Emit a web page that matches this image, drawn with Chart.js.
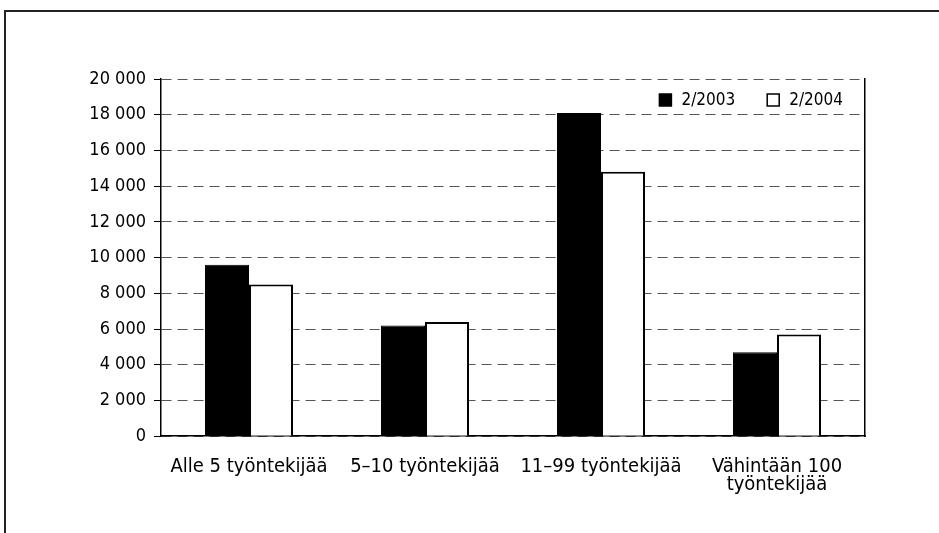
<!DOCTYPE html>
<html>
<head>
<meta charset="utf-8">
<script src="https://cdn.jsdelivr.net/npm/chart.js@4/dist/chart.umd.min.js"></script>
<style>
  html, body { margin: 0; padding: 0; background: #fff; overflow: hidden; }
  #frame {
    position: absolute; left: 4px; top: 10px; width: 960px; height: 560px;
    border-top: 2px solid #222; border-left: 2px solid #222;
  }
  #wrap { position: absolute; left: 0; top: 0; width: 939px; height: 533px; }
</style>
</head>
<body>
<div id="frame"></div>
<div id="wrap"><canvas id="chart"></canvas></div>
<script>
// Kategoriat ja arvot (luettu kuvasta)
const categories = ['Alle 5 työntekijää', '5–10 työntekijää', '11–99 työntekijää', ['Vähintään 100', 'työntekijää']];
const values2003 = [9600, 6200, 18100, 4700];
const values2004 = [8500, 6400, 14800, 5700];
const seriesLabels = ['2/2003', '2/2004'];
const yTicks = [0, 2000, 4000, 6000, 8000, 10000, 12000, 14000, 16000, 18000, 20000];

const fontFamily = "'Liberation Sans Narrow', 'Arial Narrow', 'DejaVu Sans Condensed', sans-serif";

// Selite piirretään kuva-alueen sisään oikeaan yläkulmaan
const insideLegend = {
    id: 'insideLegend',
    afterDraw(chart) {
        const c = chart.ctx;
        const area = chart.chartArea;
        const box = 12;
        const gap = 10;
        const spacing = 32;
        const y = area.top + 21;
        c.save();
        c.font = '17px ' + fontFamily;
        c.textBaseline = 'middle';
        c.textAlign = 'left';
        let x = area.right - 22;
        const sets = chart.data.datasets.slice().reverse();
        sets.forEach(ds => {
            const w = c.measureText(ds.label).width;
            x -= w;
            c.fillStyle = '#000';
            c.fillText(ds.label, x, y + 1);
            x -= gap + box;
            c.fillStyle = ds.backgroundColor;
            c.fillRect(x, y - box / 2, box, box);
            c.strokeStyle = '#000';
            c.lineWidth = 1.5;
            c.strokeRect(x, y - box / 2, box, box);
            x -= spacing;
        });
        c.restore();
    }
};

const ctx = document.getElementById('chart').getContext('2d');

const chart = new Chart(ctx, {
    type: 'bar',
    data: {
        labels: categories,
        datasets: [{
            label: seriesLabels[0],
            data: values2003,
            backgroundColor: '#000',
            borderColor: '#000',
            borderWidth: 1,
            categoryPercentage: 0.5,
            barPercentage: 1
        }, {
            label: seriesLabels[1],
            data: values2004,
            backgroundColor: '#fff',
            borderColor: '#000',
            borderWidth: 2,
            categoryPercentage: 0.5,
            barPercentage: 1
        }]
    },
    options: {
        responsive: true,
        maintainAspectRatio: false,
        animation: false,
        layout: {
            padding: { left: 80, top: 79, right: 66, bottom: 26 }
        },
        plugins: {
            legend: { display: false },
            tooltip: { enabled: false }
        },
        scales: {
            x: {
                grid: { display: false },
                border: { display: true, color: '#000', width: 1.5 },
                ticks: {
                    color: '#000',
                    padding: 13,
                    maxRotation: 0,
                    font: { family: fontFamily, size: 20, lineHeight: 0.92 }
                }
            },
            y: {
                min: 0,
                max: 20000,
                afterBuildTicks: function(axis) {
                    axis.ticks = yTicks.map(v => ({ value: v }));
                },
                afterFit: function(axis) {
                    axis.width = 81;
                },
                grid: {
                    color: '#555',
                    lineWidth: 1,
                    tickLength: 7,
                    tickColor: '#000'
                },
                border: { display: true, color: '#000', width: 1.5, dash: [10, 6] },
                ticks: {
                    color: '#000',
                    padding: 8,
                    font: { family: fontFamily, size: 18 },
                    callback: function(value) {
                        return value.toString().replace(/\B(?=(\d{3})+(?!\d))/g, ' ');
                    }
                }
            },
            y2: {
                position: 'right',
                min: 0,
                max: 20000,
                grid: { display: false },
                ticks: { display: false },
                border: { display: true, color: '#000', width: 1.5 }
            }
        }
    },
    plugins: [insideLegend]
});
</script>
</body>
</html>
